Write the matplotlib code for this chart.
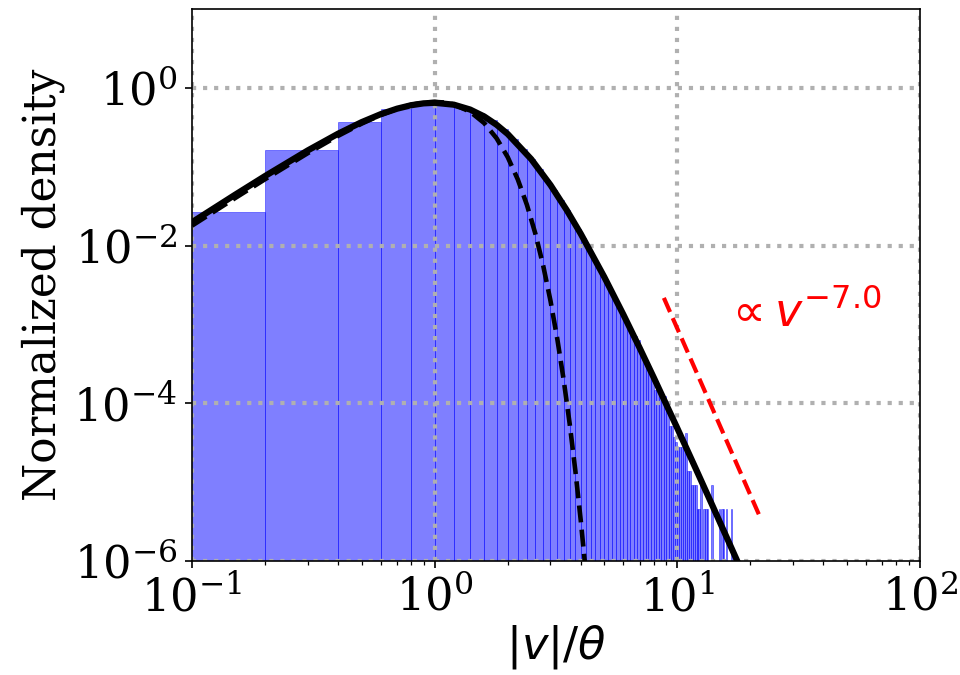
import numpy as np
import matplotlib
matplotlib.use("Agg")
import matplotlib.pyplot as plt
from matplotlib.ticker import NullLocator, FixedLocator

plt.rcParams['font.family'] = 'serif'
plt.rcParams['font.serif'] = ['DejaVu Serif']
plt.rcParams['mathtext.fontset'] = 'dejavusans'

# ---------------- data ----------------
bin_width = 0.2
# histogram heights (normalized density) for bins [0,0.2), [0.2,0.4), ...
hist_heights = [
    0.0265, 0.164, 0.369, 0.545, 0.635, 0.636, 0.575, 0.483, 0.386, 0.298,
    0.226, 0.168, 0.125, 0.0922, 0.0682, 0.0506, 0.0377, 0.0283, 0.0213, 0.0161,
    0.0124, 0.00950, 0.00736, 0.00572, 0.00451, 0.00355, 0.00283, 0.00226, 0.00181, 0.00147,
    0.00120, 0.000972, 0.000808, 0.000720, 0.000630, 0.000452, 0.000389, 0.000318, 0.000274, 0.000225,
    1.47e-4, 1.66e-4, 1.38e-4, 1.29e-4, 1.24e-4, 8.7e-5, 5.1e-5, 5.1e-5, 3.7e-5, 3.2e-5,
    2.76e-5, 2.76e-5, 2.76e-5, 2.76e-5, 4.14e-5, 1.38e-5, 1.38e-5, 9.2e-6, 9.2e-6, 9.2e-6,
    4.6e-6, 4.6e-6, 9.2e-6, 0.0, 4.6e-6, 4.6e-6, 4.6e-6, 0.0, 0.0, 9.2e-6,
    0.0, 0.0, 0.0, 0.0, 4.6e-6, 0.0, 4.6e-6, 4.6e-6, 0.0, 4.6e-6,
    0.0, 0.0, 0.0, 4.6e-6,
]

# solid curve (heavy-tailed fit)
solid_v = [0.1, 0.15, 0.2, 0.3, 0.4, 0.5, 0.6, 0.7, 0.8, 0.9, 1.0, 1.2, 1.4, 1.6, 1.8,
           2.0, 2.5, 3.0, 3.5, 4.0, 5.0, 6.0, 7.0, 8.0, 10.0, 12.0, 14.0, 16.0, 18.0, 20.0]
solid_f = [0.01978, 0.04382, 0.07616, 0.1609, 0.2622, 0.3673, 0.4643, 0.5445, 0.6024, 0.6360,
           0.6467, 0.6118, 0.5309, 0.4338, 0.3401, 0.2597, 0.1247, 0.05867, 0.02822, 0.01410,
           3.994e-3, 1.323e-3, 5.008e-4, 2.112e-4, 4.819e-5, 1.409e-5, 4.928e-6, 1.971e-6,
           8.758e-7, 4.227e-7]

# dashed curve (Gaussian-like fit)
dashed_v = [0.1, 0.15, 0.2, 0.3, 0.4, 0.5, 0.6, 0.7, 0.8, 0.9, 1.0, 1.1, 1.2, 1.4, 1.6,
            1.8, 2.0, 2.2, 2.4, 2.6, 2.8, 3.0, 3.2, 3.4, 3.6, 3.8, 4.0, 4.2]
dashed_f = [0.01788, 0.03973, 0.06940, 0.1485, 0.2462, 0.3516, 0.4535, 0.5421, 0.6094, 0.6504,
            0.6640, 0.6517, 0.6161, 0.4985, 0.3573, 0.2292, 0.1323, 0.06911, 0.03278, 0.01416,
            5.575e-3, 2.006e-3, 6.604e-4, 1.992e-4, 5.506e-5, 1.396e-5, 3.252e-6, 6.955e-7]

# reference power-law segment
ref_v = [8.8, 22.2]
ref_f = [2.17e-3, 3.3e-6]
ref_label = r'$\propto v^{-7.0}$'
ref_label_pos = (15.6, 9.5e-4)

x_label = r'$|v|/\theta$'
y_label = 'Normalized density'
y_ticks = [1e-6, 1e-4, 1e-2, 1e0]

# ---------------- figure ----------------
fig = plt.figure(figsize=(6.4, 4.5), dpi=150)
ax = fig.add_axes([192/960, 1 - 561/675, (920 - 192)/960, (561 - 9)/675])

heights = np.array(hist_heights)
lefts = np.arange(len(heights)) * bin_width
mask = heights > 0
ax.bar(lefts[mask], heights[mask], width=bin_width, align='edge',
       color='blue', alpha=0.5, edgecolor='blue', linewidth=0.4)

ax.plot(solid_v, solid_f, color='black', lw=3)
ax.plot(dashed_v, dashed_f, color='black', lw=2.2, ls='--')
ax.plot(ref_v, ref_f, color='red', lw=2, ls='--')
ax.text(ref_label_pos[0], ref_label_pos[1], ref_label, color='red',
        fontsize=22, va='baseline', ha='left')

ax.set_xscale('log')
ax.set_yscale('log')
ax.set_xlim(0.1, 100)
ax.set_ylim(1e-6, 1e1)
ax.yaxis.set_major_locator(FixedLocator(y_ticks))
ax.yaxis.set_minor_locator(NullLocator())
ax.tick_params(axis='both', which='major', labelsize=21.5)
ax.grid(True, which='major', ls=':', lw=2, color='#b0b0b0')

ax.set_xlabel(x_label, fontsize=21.5, labelpad=1.5)
ax.set_ylabel(y_label, fontsize=21)

fig.savefig('out.png', dpi=150)
